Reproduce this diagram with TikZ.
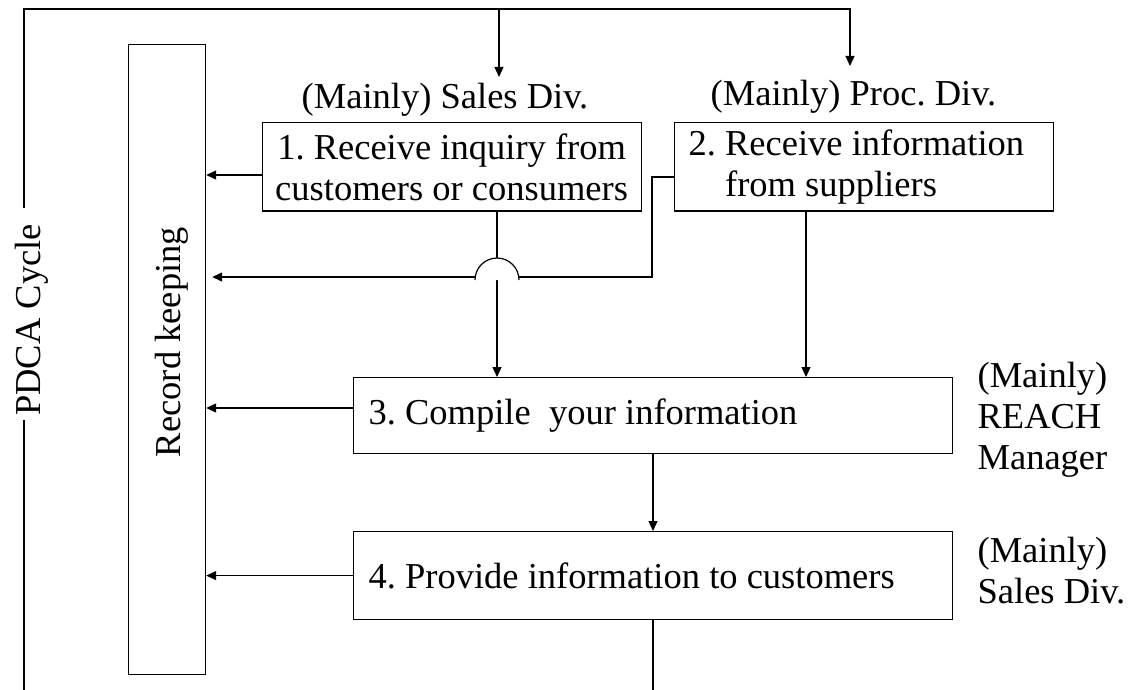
\documentclass[tikz,border=0pt]{standalone}
\usepackage{fontspec}
\setmainfont{Liberation Serif}
\usetikzlibrary{arrows.meta,positioning}

\begin{document}
\frenchspacing
\begin{tikzpicture}[x=1pt,y=-1pt,->,>={Triangle[length=10pt,width=9pt]},line width=1.2pt,font=\fontsize{36.5}{41}\selectfont,stepbox/.style={draw, inner sep=0pt, anchor=north west},lbl/.style={inner sep=0pt}]
\useasboundingbox (0,0) rectangle (1132,690);
\node[stepbox, minimum width=77pt, minimum height=630pt] (rec) at (128,44) {};
\node[lbl, rotate=90] (rectxt) at (172,342) {Record keeping};
\node[lbl, rotate=90, inner sep=4pt] (pdca) at (31.5,320) {PDCA Cycle};
\node[stepbox, minimum width=379pt, minimum height=88pt, align=center] (b1) at (261.5,122.3) {1. Receive inquiry from\\customers or consumers};
\node[stepbox, minimum width=379pt, minimum height=88pt, inner xsep=14pt, text width=351pt, align=flush left] (b2) at (674,122.3) {2. Receive information\\\phantom{2. }from suppliers};
\node[stepbox, minimum width=599pt, minimum height=76pt, inner xsep=15pt, text width=569pt, align=flush left] (b3) at (353,377) {3. Compile~ your information};
\node[stepbox, minimum width=599pt, minimum height=88pt, inner xsep=15pt, text width=569pt, align=flush left] (b4) at (353,531) {4. Provide information to customers};
\node[lbl] (lblsales) at (445,99.4) {(Mainly) Sales Div.};
\node[lbl] (lblproc) at (853.5,96.4) {(Mainly) Proc. Div.};
\node[lbl, anchor=west, align=left] (lblreach) at (977,420) {(Mainly)\\REACH\\Manager};
\node[lbl, anchor=west, align=left] (lblsales2) at (977,571) {(Mainly)\\Sales Div.};
\coordinate (insales) at (499,77);
\coordinate (inproc) at (850,66);
% PDCA loop
\draw[-] (24,690) -- (pdca.west -| 24,0);
\draw ([yshift=12pt]pdca.east -| 24,0) -- (24,9) -- (inproc |- 0,9) -- (inproc);
\draw (insales |- 0,9) -- (insales);
% record keeping
\draw (b1.west |- 0,175) -- (rec.east |- 0,175);
\draw[shorten >=6pt] (b2.west |- 0,177) -- (652,177) -- (652,277) -- (rec.east |- 0,277);
\draw (b3.west |- 0,408) -- (rec.east |- 0,408);
\draw (b4.west) -- (b4.west -| rec.east);
% flow
\draw (b1.south -| 497,0) -- (b3.north -| 497,0);
\filldraw[-, fill=white] (519,280) arc[start angle=0, end angle=180, radius=22pt];
\draw (b2.south -| 806,0) -- (b3.north -| 806,0);
\draw (b3.south -| 653,0) -- (b4.north -| 653,0);
\draw[-] (b4.south -| 653,0) -- (653,690);
\end{tikzpicture}
\end{document}
